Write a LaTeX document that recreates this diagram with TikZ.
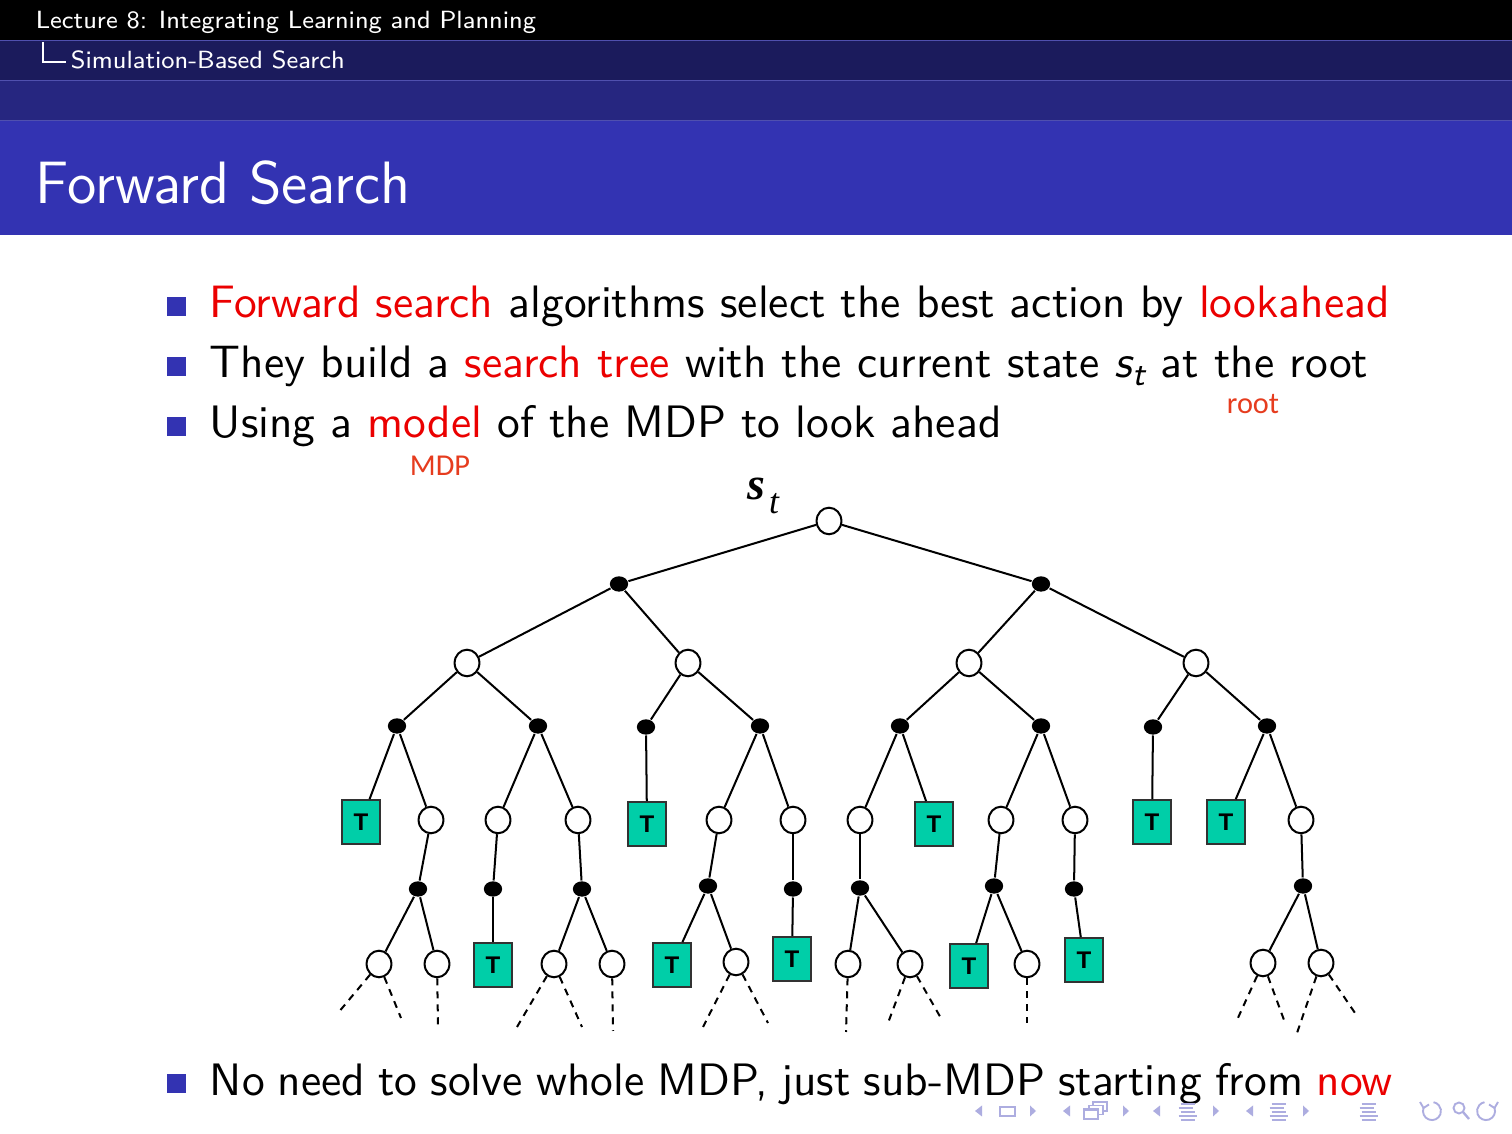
\documentclass[tikz,border=0pt]{standalone}
\usepackage{fontspec}
\newfontfamily\labfont{Carlito}
\newfontfamily\arialfont{Liberation Sans}
\newfontfamily\timesfont{Liberation Serif}
\usetikzlibrary{shapes.geometric}
\definecolor{band2}{RGB}{27,27,92}
\definecolor{band3}{RGB}{38,38,128}
\definecolor{titleblue}{RGB}{51,51,178}
\definecolor{sepline}{RGB}{80,80,175}
\definecolor{termfill}{RGB}{0,206,168}
\definecolor{termline}{RGB}{50,50,50}
\definecolor{navc}{RGB}{173,173,224}
\definecolor{labred}{RGB}{230,60,30}
\definecolor{alertred}{RGB}{235,0,0}
\newcommand{\al}[1]{\textcolor{alertred}{#1}}
\begin{document}
\begin{tikzpicture}[x=0.0846561mm,y=-0.0846561mm,
  body/.style={anchor=base west,inner sep=0pt,font=\sffamily\fontsize{10.95}{13}\selectfont},
  head/.style={anchor=base west,inner sep=0pt,text=white,font=\sffamily\fontsize{6}{7}\selectfont},
  lab/.style={anchor=base,inner sep=0pt,text=labred,font=\labfont\fontsize{7.3}{8}\selectfont},
  edge/.style={line width=0.17mm},
  dashedge/.style={line width=0.17mm,dash pattern=on 0.6mm off 0.5mm},
  st/.style={ellipse,draw,fill=white,line width=0.17mm,minimum width=2.1mm,minimum height=2.25mm,inner sep=0pt},
  ch/.style={ellipse,fill=black,minimum width=1.55mm,minimum height=1.3mm,inner sep=0pt},
  term/.style={rectangle,draw=termline,fill=termfill,line width=0.17mm,minimum width=3.25mm,minimum height=3.7mm,inner sep=0pt,font=\arialfont\bfseries\fontsize{5.8}{6}\selectfont},
  nav/.style={navc,line width=0.11mm}
]
\useasboundingbox (0,0) rectangle (1512,1134);
\fill[white] (0,0) rectangle (1512,1134);
% header bands
\fill[black] (0,0) rectangle (1512,40);
\fill[band2] (0,40) rectangle (1512,80);
\fill[band3] (0,80) rectangle (1512,120);
\fill[titleblue] (0,120) rectangle (1512,235);
\draw[sepline,line width=0.09mm] (0,40.5) -- (1512,40.5);
\draw[sepline,line width=0.09mm] (0,80.5) -- (1512,80.5);
\draw[sepline,line width=0.09mm] (0,120.5) -- (1512,120.5);
\node[head] (hdr1) at (35,29) {Lecture 8: Integrating Learning and Planning};
\draw[white,line width=0.12mm] (43,42) -- (43,62) -- (66,62);
\node[head] (hdr2) at (70,69) {Simulation-Based Search};
\node[anchor=base west,inner sep=0pt,text=white,font=\sffamily\fontsize{14.4}{17}\selectfont] (title) at (35,204) {Forward Search};
% bullets
\foreach \yy in {316,376,436,1093} \fill[titleblue] (167,\yy-19) rectangle (186,\yy);
\node[body] (b1) at (209,318) {\al{Forward search} algorithms select the best action by \al{lookahead}};
\node[body] (b2) at (209,378) {They build a \al{search tree} with the current state {\itshape s\kern0.2pt\raisebox{-1.7pt}{\fontsize{8}{8}\selectfont t}} at the root};
\node[body] (b3) at (209,438) {Using a \al{model} of the MDP to look ahead};
\node[body] (b4) at (209,1096) {\spaceskip=0.29em plus 0.1em minus 0.05em No need to solve whole MDP, just sub-MDP starting from \al{now}};
\node[lab] (labroot) at (1253,414) {root};
\node[lab] (labmdp) at (440,476) {MDP};
% s_t label
\node[inner sep=0pt,font=\timesfont\bfseries\itshape\fontsize{11}{11}\selectfont] (sl) at (756,489) {s};
\node[inner sep=0pt,font=\timesfont\itshape\fontsize{8.6}{8.6}\selectfont] (tl) at (774,504) {t};
% tree nodes
\node[st] (r) at (829,521) {};
\node[ch] (c1) at (619,584) {};
\node[ch] (c2) at (1041,584) {};
\node[st] (s1) at (467,663) {};
\node[st] (s2) at (688,663) {};
\node[st] (s3) at (969,663) {};
\node[st] (s4) at (1196,663) {};
\node[ch] (d1) at (397,726) {};
\node[ch] (d2) at (538,726) {};
\node[ch] (d3) at (646,727) {};
\node[ch] (d4) at (760,726) {};
\node[ch] (d5) at (900,726) {};
\node[ch] (d6) at (1041,726) {};
\node[ch] (d7) at (1153,727) {};
\node[ch] (d8) at (1267,726) {};
\node[term] (t1) at (361,822) {T};
\node[st] (e1) at (431,820) {};
\node[st] (e2) at (498,820) {};
\node[st] (e3) at (578,820) {};
\node[term] (t2) at (647,824) {T};
\node[st] (e4) at (719,820) {};
\node[st] (e5) at (793,820) {};
\node[st] (e6) at (860,820) {};
\node[term] (t3) at (934,824) {T};
\node[st] (e7) at (1001,820) {};
\node[st] (e8) at (1075,820) {};
\node[term] (t4) at (1152,822) {T};
\node[term] (t5) at (1226,822) {T};
\node[st] (e9) at (1301,820) {};
\node[ch] (f1) at (418,889) {};
\node[ch] (f2) at (493,889) {};
\node[ch] (f3) at (582,889) {};
\node[ch] (f4) at (708,886) {};
\node[ch] (f5) at (793,889) {};
\node[ch] (f6) at (860,888) {};
\node[ch] (f7) at (994,886) {};
\node[ch] (f8) at (1074,889) {};
\node[ch] (f9) at (1303,886) {};
\node[st] (g1) at (379,964) {};
\node[st] (g2) at (437,964) {};
\node[term] (t6) at (493,965) {T};
\node[st] (g3) at (554,964) {};
\node[st] (g4) at (612,964) {};
\node[term] (t7) at (672,965) {T};
\node[st] (g5) at (736,962) {};
\node[term] (t8) at (792,959) {T};
\node[st] (g6) at (848,964) {};
\node[st] (g7) at (910,964) {};
\node[term] (t9) at (969,966) {T};
\node[st] (g8) at (1027,964) {};
\node[term] (t10) at (1084,960) {T};
\node[st] (g9) at (1263,963) {};
\node[st] (g10) at (1321,963) {};
% edges
\foreach \a/\b in {r/c1,r/c2,c1/s1,c1/s2,c2/s3,c2/s4,
  s1/d1,s1/d2,s2/d3,s2/d4,s3/d5,s3/d6,s4/d7,s4/d8,
  d1/t1,d1/e1,d2/e2,d2/e3,d3/t2,d4/e4,d4/e5,d5/e6,d5/t3,d6/e7,d6/e8,d7/t4,d8/t5,d8/e9,
  e1/f1,e2/f2,e3/f3,e4/f4,e5/f5,e6/f6,e7/f7,e8/f8,e9/f9,
  f1/g1,f1/g2,f2/t6,f3/g3,f3/g4,f4/t7,f4/g5,f5/t8,f6/g6,f6/g7,f7/t9,f7/g8,f8/t10,f9/g9,f9/g10}
  \draw[edge] (\a) -- (\b);
% dashed continuations
\coordinate (x1) at (338,1013); \coordinate (x2) at (401,1018);
\coordinate (x3) at (438,1025);
\coordinate (x4) at (517,1027); \coordinate (x5) at (582,1027);
\coordinate (x6) at (613,1031);
\coordinate (x7) at (703,1027); \coordinate (x8) at (768,1023);
\coordinate (x9) at (846,1032);
\coordinate (x10) at (888,1023); \coordinate (x11) at (942,1020);
\coordinate (x12) at (1027,1023);
\coordinate (x13) at (1237,1020); \coordinate (x14) at (1284,1020);
\coordinate (x15) at (1297,1033); \coordinate (x16) at (1355,1013);
\foreach \a/\b in {g1/x1,g1/x2,g2/x3,g3/x4,g3/x5,g4/x6,g5/x7,g5/x8,g6/x9,g7/x10,g7/x11,g8/x12,g9/x13,g9/x14,g10/x15,g10/x16}
  \draw[dashedge] (\a) -- (\b);
% navigation symbols
\foreach \lx/\rx in {975/1030,1063/1123,1153/1213,1246/1303}{
  \fill[navc] (\lx,1111) -- (\lx+7,1105.5) -- (\lx+7,1116.5) -- cycle;
  \fill[navc] (\rx,1105.5) -- (\rx+6,1111) -- (\rx,1116.5) -- cycle;
}
\draw[nav] (1000,1107) rectangle (1015,1116);
\draw[nav,fill=white] (1093,1102) rectangle (1107,1111);
\draw[nav,fill=white] (1089,1105.5) rectangle (1103,1114.5);
\draw[nav,fill=white] (1084,1109) rectangle (1098,1119);
\draw[nav,line width=0.16mm] (1085,1110.5) -- (1097,1110.5);
\foreach \cx in {1187.5,1278.5,1368.5}{
  \draw[nav,line width=0.2mm] (\cx-7,1104) -- (\cx+7,1104);
  \draw[nav,line width=0.2mm] (\cx-9,1108) -- (\cx+5,1108);
  \draw[nav,line width=0.2mm] (\cx-7,1112) -- (\cx+7,1112);
  \draw[nav,line width=0.2mm] (\cx-9,1116) -- (\cx+9,1116);
  \draw[nav,line width=0.2mm] (\cx-7,1120) -- (\cx+7,1120);
}
\draw[nav,line width=0.16mm] (1423.5,1108) arc[start angle=-160,end angle=-440,radius=9];
\draw[nav,line width=0.16mm] (1420,1102) -- (1423.5,1108) -- (1429,1104.5);
\draw[nav,line width=0.16mm] (1459,1108) circle[radius=5.5];
\draw[nav,line width=0.2mm] (1463,1112) -- (1469,1119);
\draw[nav,line width=0.16mm] (1494.5,1108) arc[start angle=-20,end angle=260,radius=9];
\draw[nav,line width=0.16mm] (1498,1102) -- (1494.5,1108) -- (1489,1104.5);
\end{tikzpicture}
\end{document}
